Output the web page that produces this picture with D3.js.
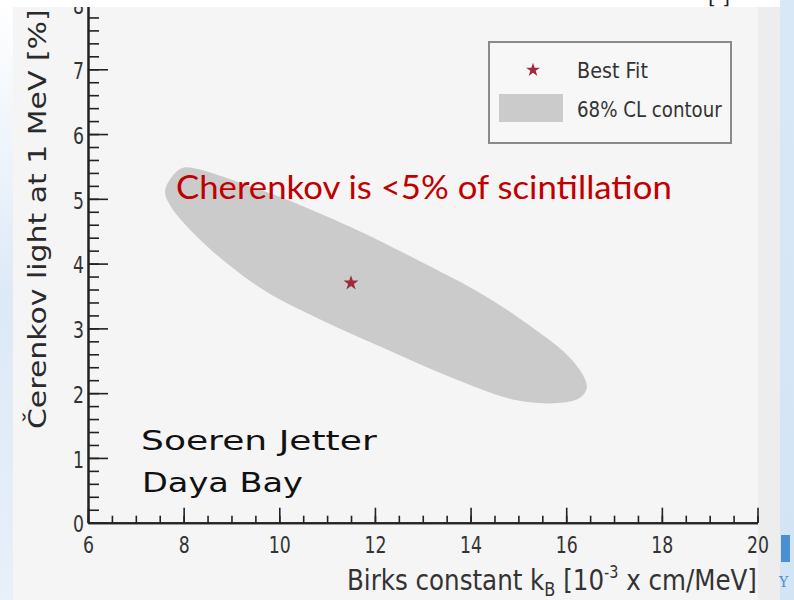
<!DOCTYPE html>
<html><head><meta charset="utf-8">
<script src="https://cdn.jsdelivr.net/npm/d3@7"></script>
<style>html,body{margin:0;padding:0;background:#f5f5f5;overflow:hidden}</style>
</head><body>
<svg id="c" width="794" height="600"></svg>
<script>
// ---- data ----
const xMajorTicks = [6, 8, 10, 12, 14, 16, 18, 20];
const yMajorTicks = [0, 1, 2, 3, 4, 5, 6, 7, 8];
const bestFitX = [11.5];
const bestFitY = [3.7];
// 68% CL contour outline (kB, Cherenkov %), traced clockwise from the left tip
const contourX = [7.61, 7.76, 7.99, 8.30, 8.70, 9.39, 10.08, 11.48, 12.88, 14.26, 15.30, 16.02, 16.35, 16.43,
                  16.29, 15.87, 14.97, 13.57, 12.17, 10.79, 9.74, 8.70, 7.99, 7.71];
const contourY = [5.11, 5.35, 5.48, 5.46, 5.37, 5.19, 5.01, 4.57, 4.06, 3.52, 3.01, 2.59, 2.28, 2.08,
                  1.93, 1.85, 1.89, 2.25, 2.70, 3.16, 3.56, 4.13, 4.64, 4.91];
const legendLabels = ["Best Fit", "68% CL contour"];

const svg = d3.select("#c");
const x = d3.scaleLinear().domain([6, 20]).range([88, 757.5]);
const y = d3.scaleLinear().domain([0, 8]).range([522.7, 4.5]);

// backgrounds
const defs = svg.append("defs");
const lg = defs.append("linearGradient").attr("id","lb").attr("x1",0).attr("y1",0).attr("x2",0).attr("y2",1);
lg.append("stop").attr("offset","0").attr("stop-color","#ffffff");
lg.append("stop").attr("offset","0.5").attr("stop-color","#dde9f6");
lg.append("stop").attr("offset","1").attr("stop-color","#e8f0f9");
const rg = defs.append("linearGradient").attr("id","rb").attr("x1",0).attr("y1",0).attr("x2",0).attr("y2",1);
rg.append("stop").attr("offset","0").attr("stop-color","#d9e8f6");
rg.append("stop").attr("offset","1").attr("stop-color","#d3e4f5");
svg.append("rect").attr("x",0).attr("y",0).attr("width",794).attr("height",600).attr("fill","#f5f5f5");
svg.append("rect").attr("x",758).attr("y",0).attr("width",22).attr("height",600).attr("fill","#ededed");
svg.append("rect").attr("x",0).attr("y",0).attr("width",13).attr("height",600).attr("fill","url(#lb)");
svg.append("rect").attr("x",780).attr("y",0).attr("width",14).attr("height",600).attr("fill","url(#rb)");

// contour
const pts = contourX.map((v, i) => [x(v), y(contourY[i])]);
svg.append("path")
  .attr("d", d3.line().curve(d3.curveCatmullRomClosed.alpha(0.5))(pts))
  .attr("fill", "#cbcbcb");

// best fit star
svg.append("path")
  .attr("d", d3.symbol(d3.symbolStar, 70)())
  .attr("transform", `translate(${x(bestFitX[0])},${y(bestFitY[0])})`)
  .attr("fill", "#9e2a3c");

// axes
const tickFont = "'Liberation Sans Narrow','DejaVu Sans Condensed','Liberation Sans',sans-serif";
svg.append("g").attr("transform", `translate(0,${y(0)})`)
  .call(d3.axisBottom(x).tickValues(d3.range(6, 20.01, 0.5)).tickSize(-7).tickSizeOuter(0).tickFormat(""));
const gx = svg.append("g").attr("transform", `translate(0,${y(0)})`)
  .call(d3.axisBottom(x).tickValues(xMajorTicks).tickSize(-15).tickSizeOuter(0).tickPadding(14).tickFormat(d3.format("d")));
svg.append("g").attr("transform", `translate(${x(6)},0)`)
  .call(d3.axisLeft(y).tickValues(d3.range(0, 8.001, 0.2)).tickSize(-11).tickSizeOuter(0).tickFormat(""));
const gy = svg.append("g").attr("transform", `translate(${x(6)},0)`)
  .call(d3.axisLeft(y).tickValues(yMajorTicks).tickSize(-20).tickSizeOuter(0).tickPadding(4).tickFormat(d3.format("d")));
svg.selectAll(".domain").attr("stroke", "#222").attr("stroke-width", 2);
svg.selectAll(".tick line").attr("stroke", "#222").attr("stroke-width", 1.6);
svg.selectAll(".tick text").attr("font-family", tickFont).attr("font-size", 23).attr("fill", "#333");
gy.selectAll(".tick text").attr("dy", "0.4em");
// narrow the digits to the reference's condensed look (~11px per digit)
svg.selectAll(".tick text").each(function () {
  const t = d3.select(this);
  const w = this.getComputedTextLength();
  const n = t.text().length;
  if (w > 0) {
    const s = Math.min(1, (11 * n) / w);
    t.attr("transform", `scale(${s},1)`).attr("x", (+t.attr("x") || 0) / s);
  }
});

// helper: place text, stretch horizontally to a target width
function fitText(g, x0, y0, w, rot) {
  const bb = g.node().getBBox();
  const sx = w / bb.width;
  g.attr("transform", `translate(${x0},${y0})` + (rot ? ` rotate(${rot})` : "") + ` scale(${sx},1)`);
}

// x-axis title
const xt = svg.append("g");
const xtt = xt.append("text").attr("font-family", tickFont).attr("font-size", 29).attr("fill", "#333");
xtt.append("tspan").text("Birks constant k");
xtt.append("tspan").attr("font-size", 19).attr("dy", 6).text("B");
xtt.append("tspan").attr("dy", -6).text(" [10");
xtt.append("tspan").attr("font-size", 17).attr("dy", -12).text("-3");
xtt.append("tspan").attr("dy", 12).text(" x cm/MeV]");
fitText(xt, 347, 590, 410);

// y-axis title
const yt = svg.append("g");
yt.append("text").attr("font-family", "'DejaVu Sans',sans-serif").attr("font-size", 25).attr("fill", "#2a2a2a")
  .text("Čerenkov light at 1 MeV [%]");
fitText(yt, 46, 429, 420, -90);

// annotation
const ann = svg.append("g");
ann.append("text").attr("font-family", "Lato,'Open Sans',sans-serif").attr("font-size", 32).attr("fill", "#c00000")
  .text("Cherenkov is <5% of scintillation");
fitText(ann, 176, 199, 496);

const a1 = svg.append("g");
a1.append("text").attr("font-family", "'DejaVu Sans',sans-serif").attr("font-size", 27).attr("fill", "#111").text("Soeren Jetter");
fitText(a1, 141, 450, 237);
const a2 = svg.append("g");
a2.append("text").attr("font-family", "'DejaVu Sans',sans-serif").attr("font-size", 27).attr("fill", "#111").text("Daya Bay");
fitText(a2, 142, 492, 161);

// legend
const lgd = svg.append("g");
lgd.append("rect").attr("x", 489).attr("y", 42).attr("width", 242).attr("height", 101)
  .attr("fill", "#f7f7f7").attr("stroke", "#8a8a8a").attr("stroke-width", 2);
lgd.append("path").attr("d", d3.symbol(d3.symbolStar, 60)()).attr("transform", "translate(533,70)").attr("fill", "#a3293b");
lgd.append("rect").attr("x", 499).attr("y", 94).attr("width", 64).attr("height", 28).attr("fill", "#cbcbcb");
const l1 = lgd.append("g");
l1.append("text").attr("font-family", tickFont).attr("font-size", 21).attr("fill", "#333").text(legendLabels[0]);
fitText(l1, 577, 78, 71);
const l2 = lgd.append("g");
l2.append("text").attr("font-family", tickFont).attr("font-size", 21).attr("fill", "#333").text(legendLabels[1]);
fitText(l2, 577, 117, 145);

// slide chrome: top white band, cut-off reference bracket, right-side marks
svg.append("rect").attr("x", 13).attr("y", 0).attr("width", 767).attr("height", 7).attr("fill", "#ffffff");
svg.append("text").attr("x", 708).attr("y", 4).attr("font-family", "'DejaVu Sans',sans-serif").attr("font-size", 20)
  .attr("fill", "#222").text("[     ]");
svg.append("rect").attr("x", 781).attr("y", 535).attr("width", 9).attr("height", 27).attr("fill", "#4a8fd2");
svg.append("text").attr("x", 779).attr("y", 587).attr("font-family", "'DejaVu Serif',serif").attr("font-size", 14)
  .attr("fill", "#4a8fd2").text("Y");
</script>
</body></html>
